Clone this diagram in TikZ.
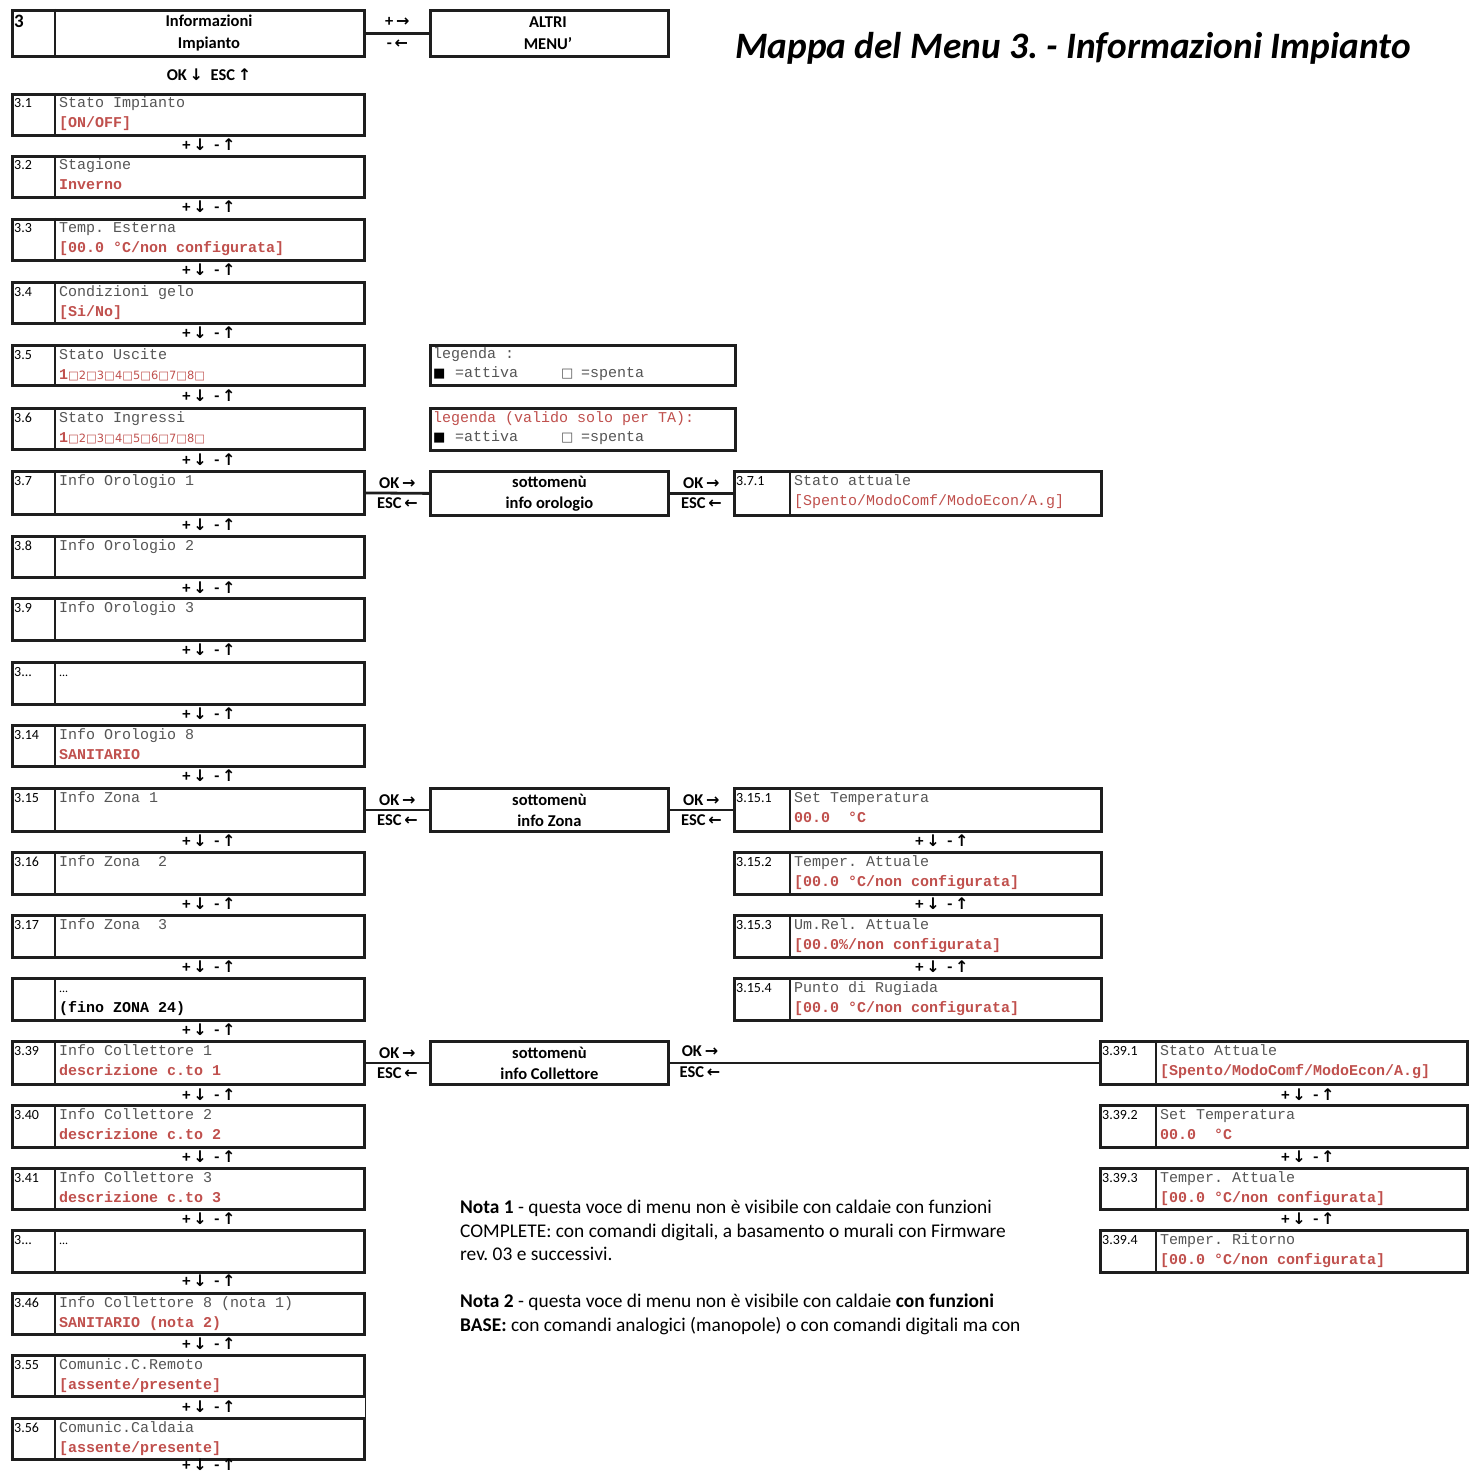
\documentclass[tikz,border=0pt]{standalone}
\usepackage{fontspec}
\setmainfont{Carlito}
\newfontfamily\monof{Liberation Mono}
\newfontfamily\symf{DejaVu Sans}
\definecolor{menured}{RGB}{192,80,77}
\definecolor{menugray}{RGB}{85,85,85}
\definecolor{frame}{RGB}{30,30,30}
\newcommand\RA{{\symf\bfseries\fontsize{16}{18}\selectfont →}}
\newcommand\LA{{\symf\bfseries\fontsize{16}{18}\selectfont ←}}
\newcommand\DA{{\symf\bfseries\fontsize{16}{18}\selectfont ↓}}
\newcommand\UA{{\symf\bfseries\fontsize{16}{18}\selectfont ↑}}
\newcommand\updn{+\,\DA\ \ -\,\UA}
\newcommand\rb[1]{{\bfseries\color{menured}#1}}
\newcommand\rn[1]{{\color{menured}#1}}
\newcommand\sqline{{\color{menured}{\bfseries 1}{\symf\fontsize{11.4}{14}\selectfont □2□3□4□5□6□7□8□}}}
\newcommand\dotsmall{{\normalfont\fontsize{12}{13}\selectfont\color{black}...}}
\tikzset{
  box/.style={draw=frame, line width=2.8pt, inner sep=0pt, anchor=north west},
  divline/.style={draw=frame, line width=1.8pt},
  numlab/.style={font=\fontsize{14}{16}\selectfont, inner sep=0pt, anchor=base west},
  mono/.style={font=\monof\fontsize{15}{18}\selectfont\frenchspacing, text=menugray, inner sep=0pt, anchor=base west},
  keylab/.style={font=\bfseries\fontsize{16.5}{19}\selectfont, inner sep=0pt},
  conn/.style={draw=frame, line width=2.8pt},
  subbox/.style={box, minimum width=238pt, align=center},
  subtext/.style={font=\bfseries\fontsize{16.5}{21}\selectfont, align=center, inner sep=0pt},
  notetext/.style={font=\fontsize{19.4}{23}\selectfont\frenchspacing, inner sep=0pt, anchor=base west},
}
% #1 name, #2 left, #3 top, #4 width, #5 divider offset, #6 number, #7 line1, #8 line2, #9 height
\newcommand\itembox[9]{%
  \node[box, minimum width=#4pt, minimum height=#9pt] (#1) at (#2,#3) {};
  \draw[divline] ([xshift=#5pt]#1.north west) -- ([xshift=#5pt]#1.south west);
  \node[numlab] (#1n) at ([xshift=3pt,yshift=-15pt]#1.north west) {#6};
  \node[mono] (#1a) at ([xshift={#5pt+4pt},yshift=-15pt]#1.north west) {#7};
  \node[mono] (#1b) at ([xshift={#5pt+4pt},yshift=-35pt]#1.north west) {#8};
}
\newcommand\leftbox[6]{\itembox{#1}{11}{#2}{352}{44}{#3}{#4}{#5}{#6}}
\begin{document}
\frenchspacing
\begin{tikzpicture}[x=1pt,y=-1pt]
\useasboundingbox (0,0) rectangle (1478,1474);
\fill[white] (0,0) rectangle (1478,1474);

% title
\node[font=\bfseries\itshape\fontsize{37.3}{42}\selectfont\frenchspacing, inner sep=0pt] (title) at (1073,48) {Mappa del Menu 3. - Informazioni Impianto};

% top box
\node[box, minimum width=352pt, minimum height=46pt] (top) at (11,9) {};
\draw[divline] ([xshift=44pt]top.north west) -- ([xshift=44pt]top.south west);
\node[font=\bfseries\fontsize{19}{21}\selectfont, inner sep=0pt, anchor=base west] (topn) at (14,28) {3};
\node[subtext, font=\bfseries\fontsize{16.5}{22}\selectfont] (toptxt) at (209,33) {Informazioni\\Impianto};
\node[box, minimum width=238pt, minimum height=46pt] (altri) at (429,9) {};
\node[subtext, font=\bfseries\fontsize{16.5}{22}\selectfont] (altritxt) at (548,33) {ALTRI\\MENU'};
\draw[conn] (top.east) -- (altri.west)
  node[keylab, midway, above=5pt] (topp) {+\,\RA}
  node[keylab, midway, below=5pt] (topm) {-\,\LA};
\node[keylab] (okesc) at (209,75) {OK\,\DA\ \ ESC\,\UA};

% left column
\leftbox{b1}{93}{3.1}{Stato Impianto}{\rb{[ON/OFF]}}{41}
\leftbox{b2}{155}{3.2}{Stagione}{\rb{Inverno}}{41}
\leftbox{b3}{218}{3.3}{Temp. Esterna}{\rb{[00.0 °C/non configurata]}}{41}
\leftbox{b4}{281}{3.4}{Condizioni gelo}{\rb{[Si/No]}}{41}
\leftbox{b5}{344}{3.5}{Stato Uscite}{\sqline}{40}
\leftbox{b6}{407}{3.6}{Stato Ingressi}{\sqline}{41}
\leftbox{b7}{470}{3.7}{Info Orologio 1}{}{43}
\leftbox{b8}{535}{3.8}{Info Orologio 2}{}{41}
\leftbox{b9}{597}{3.9}{Info Orologio 3}{}{42}
\leftbox{b10}{661}{3...}{\dotsmall}{}{42}
\leftbox{b11}{724}{3.14}{Info Orologio 8}{\rb{SANITARIO}}{41}
\leftbox{b12}{787}{3.15}{Info Zona 1}{}{43}
\leftbox{b13}{851}{3.16}{Info Zona\ \ 2}{}{42}
\leftbox{b14}{914}{3.17}{Info Zona\ \ 3}{}{42}
\leftbox{b15}{977}{}{\dotsmall}{{\bfseries\color{black}(fino ZONA 24)}}{42}
\leftbox{b16}{1040}{3.39}{Info Collettore 1}{\rb{descrizione c.to 1}}{43}
\leftbox{b17}{1104}{3.40}{Info Collettore 2}{\rb{descrizione c.to 2}}{42}
\leftbox{b18}{1167}{3.41}{Info Collettore 3}{\rb{descrizione c.to 3}}{41}
\leftbox{b19}{1229}{3...}{\dotsmall}{}{42}
\leftbox{b20}{1292}{3.46}{Info Collettore 8 (nota 1)}{\rb{SANITARIO (nota 2)}}{41}
\leftbox{b21}{1354}{3.55}{Comunic.C.Remoto}{\rb{[assente/presente]}}{41}
\leftbox{b22}{1417}{3.56}{Comunic.Caldaia}{\rb{[assente/presente]}}{41}
\draw[divline, line width=1.2pt] (b21.south east) -- (b22.north east);

% +/- labels left column
\foreach \y [count=\i] in {145,207,270,333,396,460,525,588,650,714,776,841,904,967,1030,1095,1157,1219,1281,1344,1407,1465}
  \node[keylab] (pm\i) at (209,\y) {\updn};

% legends
\node[box, minimum width=305pt, minimum height=40pt] (leg1) at (429,344) {};
\node[mono, text=menugray] (leg1a) at (433,358) {legenda :};
\node[inner sep=0pt, anchor=base west, font=\symf\fontsize{13}{15}\selectfont] (leg1s) at (433,377) {■};
\node[mono] (leg1b) at (455,377) {=attiva};
\node[inner sep=0pt, anchor=base west, font=\symf\fontsize{13}{15}\selectfont, text=menugray] (leg1q) at (561,377) {□};
\node[mono] (leg1c) at (581,377) {=spenta};

\node[box, minimum width=305pt, minimum height=42pt] (leg2) at (429,407) {};
\node[mono, text=menured] (leg2a) at (433,422) {legenda (valido solo per TA):};
\node[inner sep=0pt, anchor=base west, font=\symf\fontsize{13}{15}\selectfont] (leg2s) at (433,441) {■};
\node[mono] (leg2b) at (455,441) {=attiva};
\node[inner sep=0pt, anchor=base west, font=\symf\fontsize{13}{15}\selectfont, text=menugray] (leg2q) at (561,441) {□};
\node[mono] (leg2c) at (581,441) {=spenta};

% submenu boxes
\node[subbox, minimum height=44pt] (sub1) at (429,470) {};
\node[subtext] (sub1t) at (sub1.center) {sottomenù\\info orologio};
\node[subbox, minimum height=43pt] (sub2) at (429,787) {};
\node[subtext] (sub2t) at (sub2.center) {sottomenù\\info Zona};
\node[subbox, minimum height=43pt] (sub3) at (429,1040) {};
\node[subtext] (sub3t) at (sub3.center) {sottomenù\\info Collettore};

% right items
\itembox{r371}{733}{470}{367}{57}{3.7.1}{Stato attuale}{\rn{[Spento/ModoComf/ModoEcon/A.g]}}{44}

\itembox{r151}{733}{787}{367}{57}{3.15.1}{Set Temperatura}{\rb{00.0\ \ °C}}{43}
\itembox{r152}{733}{851}{367}{57}{3.15.2}{Temper. Attuale}{\rb{[00.0 °C/non configurata]}}{42}
\itembox{r153}{733}{914}{367}{57}{3.15.3}{Um.Rel. Attuale}{\rb{[00.0\%/non configurata]}}{42}
\itembox{r154}{733}{977}{367}{57}{3.15.4}{Punto di Rugiada}{\rb{[00.0 °C/non configurata]}}{42}
\foreach \y [count=\i] in {841,904,967}
  \node[keylab] (rpm\i) at (942,\y) {\updn};

\itembox{r391}{1099}{1040}{367}{57}{3.39.1}{Stato Attuale}{\rb{[Spento/ModoComf/ModoEcon/A.g]}}{43}
\itembox{r392}{1099}{1104}{367}{57}{3.39.2}{Set Temperatura}{\rb{00.0\ \ °C}}{42}
\itembox{r393}{1099}{1167}{367}{57}{3.39.3}{Temper. Attuale}{\rb{[00.0 °C/non configurata]}}{41}
\itembox{r394}{1099}{1229}{367}{57}{3.39.4}{Temper. Ritorno}{\rb{[00.0 °C/non configurata]}}{42}
\foreach \y [count=\i] in {1095,1157,1219}
  \node[keylab] (cpm\i) at (1308,\y) {\updn};

% connectors
\draw[conn] (b7.east) -- (sub1.west)
  node[keylab, midway, above=3pt] (c1a) {OK\,\RA}
  node[keylab, midway, below=3pt] (c1b) {ESC\,\LA};
\draw[conn] (sub1.east) -- (r371.west)
  node[keylab, midway, above=3pt] (c2a) {OK\,\RA}
  node[keylab, midway, below=3pt] (c2b) {ESC\,\LA};
\draw[conn] (b12.east) -- (sub2.west)
  node[keylab, midway, above=3pt] (c3a) {OK\,\RA}
  node[keylab, midway, below=3pt] (c3b) {ESC\,\LA};
\draw[conn] (sub2.east) -- (r151.west)
  node[keylab, midway, above=3pt] (c4a) {OK\,\RA}
  node[keylab, midway, below=3pt] (c4b) {ESC\,\LA};
\draw[conn] (b16.east) -- (sub3.west)
  node[keylab, midway, above=3pt] (c5a) {OK\,\RA}
  node[keylab, midway, below=3pt] (c5b) {ESC\,\LA};
\draw[conn] (sub3.east) -- (r391.west);
\node[keylab] (c6a) at (700,1051) {OK\,\RA};
\node[keylab] (c6b) at (700,1072) {ESC\,\LA};

% notes
\node[notetext] (n1) at (460,1213) {\textbf{Nota 1} - questa voce di menu non è visibile con caldaie con funzioni};
\node[notetext] (n2) at (460,1237) {COMPLETE: con comandi digitali, a basamento o murali con Firmware};
\node[notetext] (n3) at (460,1260) {rev. 03 e successivi.};
\node[notetext] (n4) at (460,1307) {\textbf{Nota 2} - questa voce di menu non è visibile con caldaie \textbf{con funzioni}};
\node[notetext] (n5) at (460,1331) {\textbf{BASE:} con comandi analogici (manopole) o con comandi digitali ma con};
\end{tikzpicture}
\end{document}
